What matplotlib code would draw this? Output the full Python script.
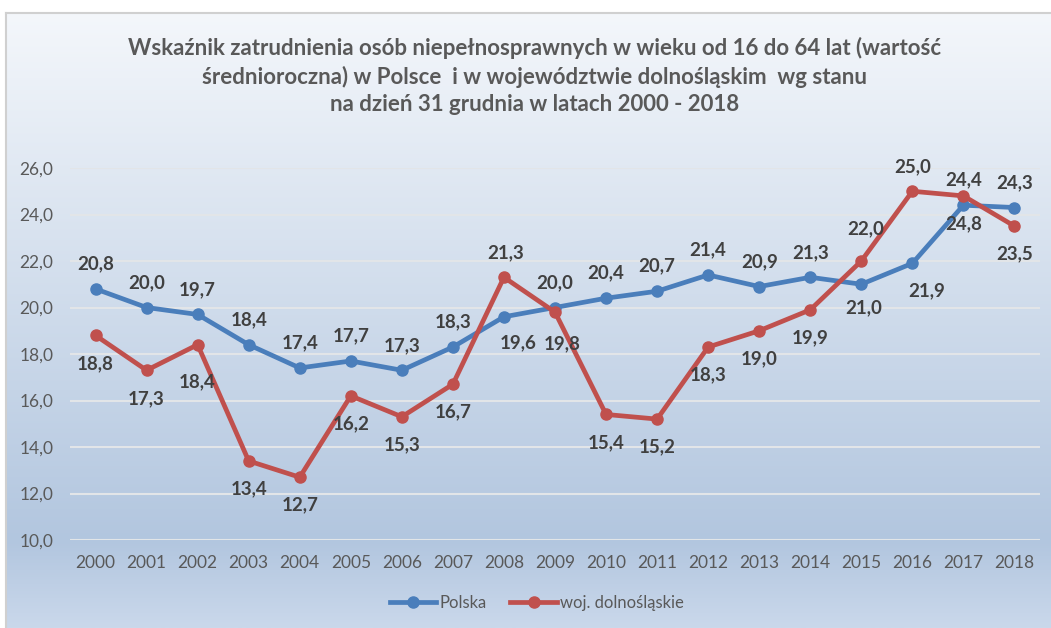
import numpy as np
import matplotlib.pyplot as plt
from matplotlib.colors import LinearSegmentedColormap

# data
years = ['2000', '2001', '2002', '2003', '2004', '2005', '2006', '2007', '2008', '2009',
         '2010', '2011', '2012', '2013', '2014', '2015', '2016', '2017', '2018']
polska = [20.8, 20.0, 19.7, 18.4, 17.4, 17.7, 17.3, 18.3, 19.6, 20.0,
          20.4, 20.7, 21.4, 20.9, 21.3, 21.0, 21.9, 24.4, 24.3]
dolnoslaskie = [18.8, 17.3, 18.4, 13.4, 12.7, 16.2, 15.3, 16.7, 21.3, 19.8,
                15.4, 15.2, 18.3, 19.0, 19.9, 22.0, 25.0, 24.8, 23.5]

title = ('Wskaźnik zatrudnienia osób niepełnosprawnych w wieku od 16 do 64 lat (wartość\n'
         'średnioroczna) w Polsce  i w województwie dolnośląskim  wg stanu\n'
         'na dzień 31 grudnia w latach 2000 - 2018')

plt.rcParams['font.family'] = ['Lato', 'DejaVu Sans']

fig = plt.figure(figsize=(10.51, 6.28), dpi=100)

# gradient background of the chart area
bg = fig.add_axes([6 / 1051, 0, 1045 / 1051, 615 / 628])
cmap = LinearSegmentedColormap.from_list(
    'bg', [(0.0, '#f4f7fb'), (0.86, '#b2c6df'), (1.0, '#cad8eb')])
bg.imshow(np.linspace(0, 1, 256).reshape(-1, 1), aspect='auto', cmap=cmap,
          extent=[0, 1, 0, 1])
bg.set_xticks([])
bg.set_yticks([])
for side in ['right', 'bottom']:
    bg.spines[side].set_visible(False)
for side in ['top', 'left']:
    bg.spines[side].set_color('#d0d0d0')
    bg.spines[side].set_linewidth(1.5)

ax = fig.add_axes([70 / 1051, 88 / 628, 970 / 1051, 372 / 628])
ax.patch.set_alpha(0)
x = np.arange(len(years))

ax.plot(x, polska, color='#4a7ebb', linewidth=3.4, marker='o', markersize=8,
        label='Polska', zorder=3)
ax.plot(x, dolnoslaskie, color='#c0504d', linewidth=3.4, marker='o', markersize=8,
        label='woj. dolnośląskie', zorder=3)

# label offsets in pixels (dx, dy)
blue_off = {8: (14, -26), 15: (2, -23), 16: (14, -27)}
red_off = {2: (0, -37), 8: (2, 25), 9: (7, -32), 15: (4, 32), 16: (0, 25)}

for i, v in enumerate(polska):
    dx, dy = blue_off.get(i, (0, 25))
    ax.annotate(f'{v:.1f}'.replace('.', ','), (x[i], v), xytext=(dx * 0.72, dy * 0.72),
                textcoords='offset points', ha='center', va='center',
                fontsize=13.5, fontweight='bold', color='#404040', zorder=4)
for i, v in enumerate(dolnoslaskie):
    dx, dy = red_off.get(i, (0, -28))
    ax.annotate(f'{v:.1f}'.replace('.', ','), (x[i], v), xytext=(dx * 0.72, dy * 0.72),
                textcoords='offset points', ha='center', va='center',
                fontsize=13.5, fontweight='bold', color='#404040', zorder=4)

ax.set_xlim(-0.5, len(years) - 0.5)
ax.set_ylim(10, 26)
ax.set_yticks(np.arange(10, 27, 2))
ax.set_yticklabels([f'{t:.1f}'.replace('.', ',') for t in np.arange(10, 27, 2)])
ax.set_xticks(x)
ax.set_xticklabels(years)
ax.tick_params(length=0, labelsize=12.5, labelcolor='#595959')
ax.tick_params(axis='y', pad=12)
ax.tick_params(axis='x', pad=11)
ax.grid(axis='y', color='#e2e5e8', linewidth=1.5)
ax.set_axisbelow(True)
for s in ax.spines.values():
    s.set_visible(False)

fig.legend(loc='center', bbox_to_anchor=(537 / 1051, 1 - 603 / 628), ncol=2,
           frameon=False, fontsize=12, labelcolor='#595959', handlelength=2.8,
           columnspacing=1.4, handletextpad=0.2)

fig.text(535 / 1051, 1 - 76 / 628, title, ha='center', va='center', fontsize=16,
         fontweight='bold', color='#595959', linespacing=1.38)

fig.savefig('out.png', dpi=100)
